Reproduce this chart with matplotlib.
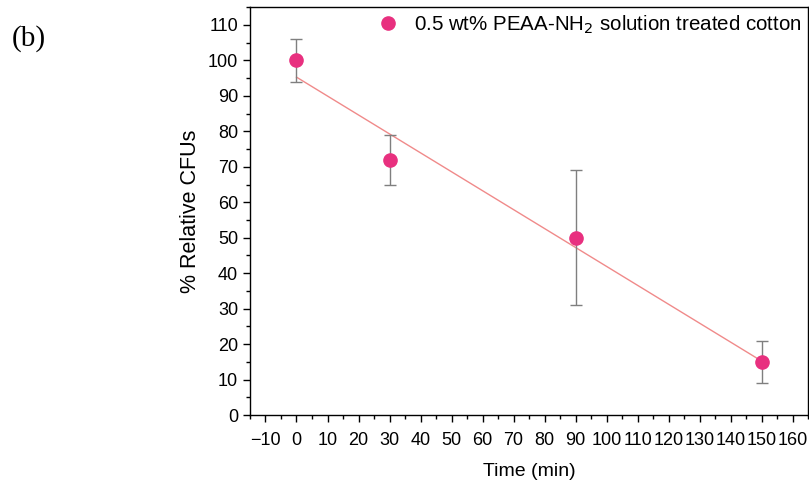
import numpy as np
import matplotlib

matplotlib.use("Agg")
import matplotlib.pyplot as plt
from matplotlib.ticker import MultipleLocator

time_min = [0, 30, 90, 150]
rel_cfu = [100, 72, 50, 15]
rel_cfu_err = [6, 7, 19, 6]

plt.rcParams["font.family"] = ["Liberation Sans", "DejaVu Sans"]

fig = plt.figure(figsize=(8.09, 4.82), dpi=100)
ax = fig.add_axes([0.309, 0.139, 0.69, 0.846])

# linear fit through the points
slope, intercept = np.polyfit(time_min, rel_cfu, 1)
fit_x = np.array([min(time_min), max(time_min)])
ax.plot(fit_x, slope * fit_x + intercept, color="#F08A8A", lw=1.0, zorder=2)

ax.errorbar(time_min, rel_cfu, yerr=rel_cfu_err, fmt="none", ecolor="#7F7F7F",
            elinewidth=1.0, capsize=4, capthick=1.0, zorder=3)
ax.plot(time_min, rel_cfu, "o", color="#E8307F", ms=9.5, zorder=4,
        label="0.5 wt% PEAA-NH$_2$ solution treated cotton")

ax.set_xlim(-15, 165)
ax.set_ylim(0, 115)
ax.xaxis.set_major_locator(MultipleLocator(10))
ax.xaxis.set_minor_locator(MultipleLocator(5))
ax.yaxis.set_major_locator(MultipleLocator(10))
ax.yaxis.set_minor_locator(MultipleLocator(5))
ax.tick_params(which="major", direction="out", length=5, width=1, labelsize=13)
ax.tick_params(which="minor", direction="out", length=3, width=1)
ax.tick_params(axis="x", which="major", pad=7)
for s in ax.spines.values():
    s.set_linewidth(1.0)

ax.set_xlabel("Time (min)", fontsize=14, labelpad=10)
ax.set_ylabel("% Relative CFUs", fontsize=15.5, labelpad=5)

ax.legend(loc="upper right", frameon=False, fontsize=14.8, handletextpad=0.3,
          borderaxespad=0.15, borderpad=0.15)

fig.text(0.014, 0.905, "(b)", family="Liberation Serif", fontsize=21)

fig.savefig("out.png", dpi=100)
